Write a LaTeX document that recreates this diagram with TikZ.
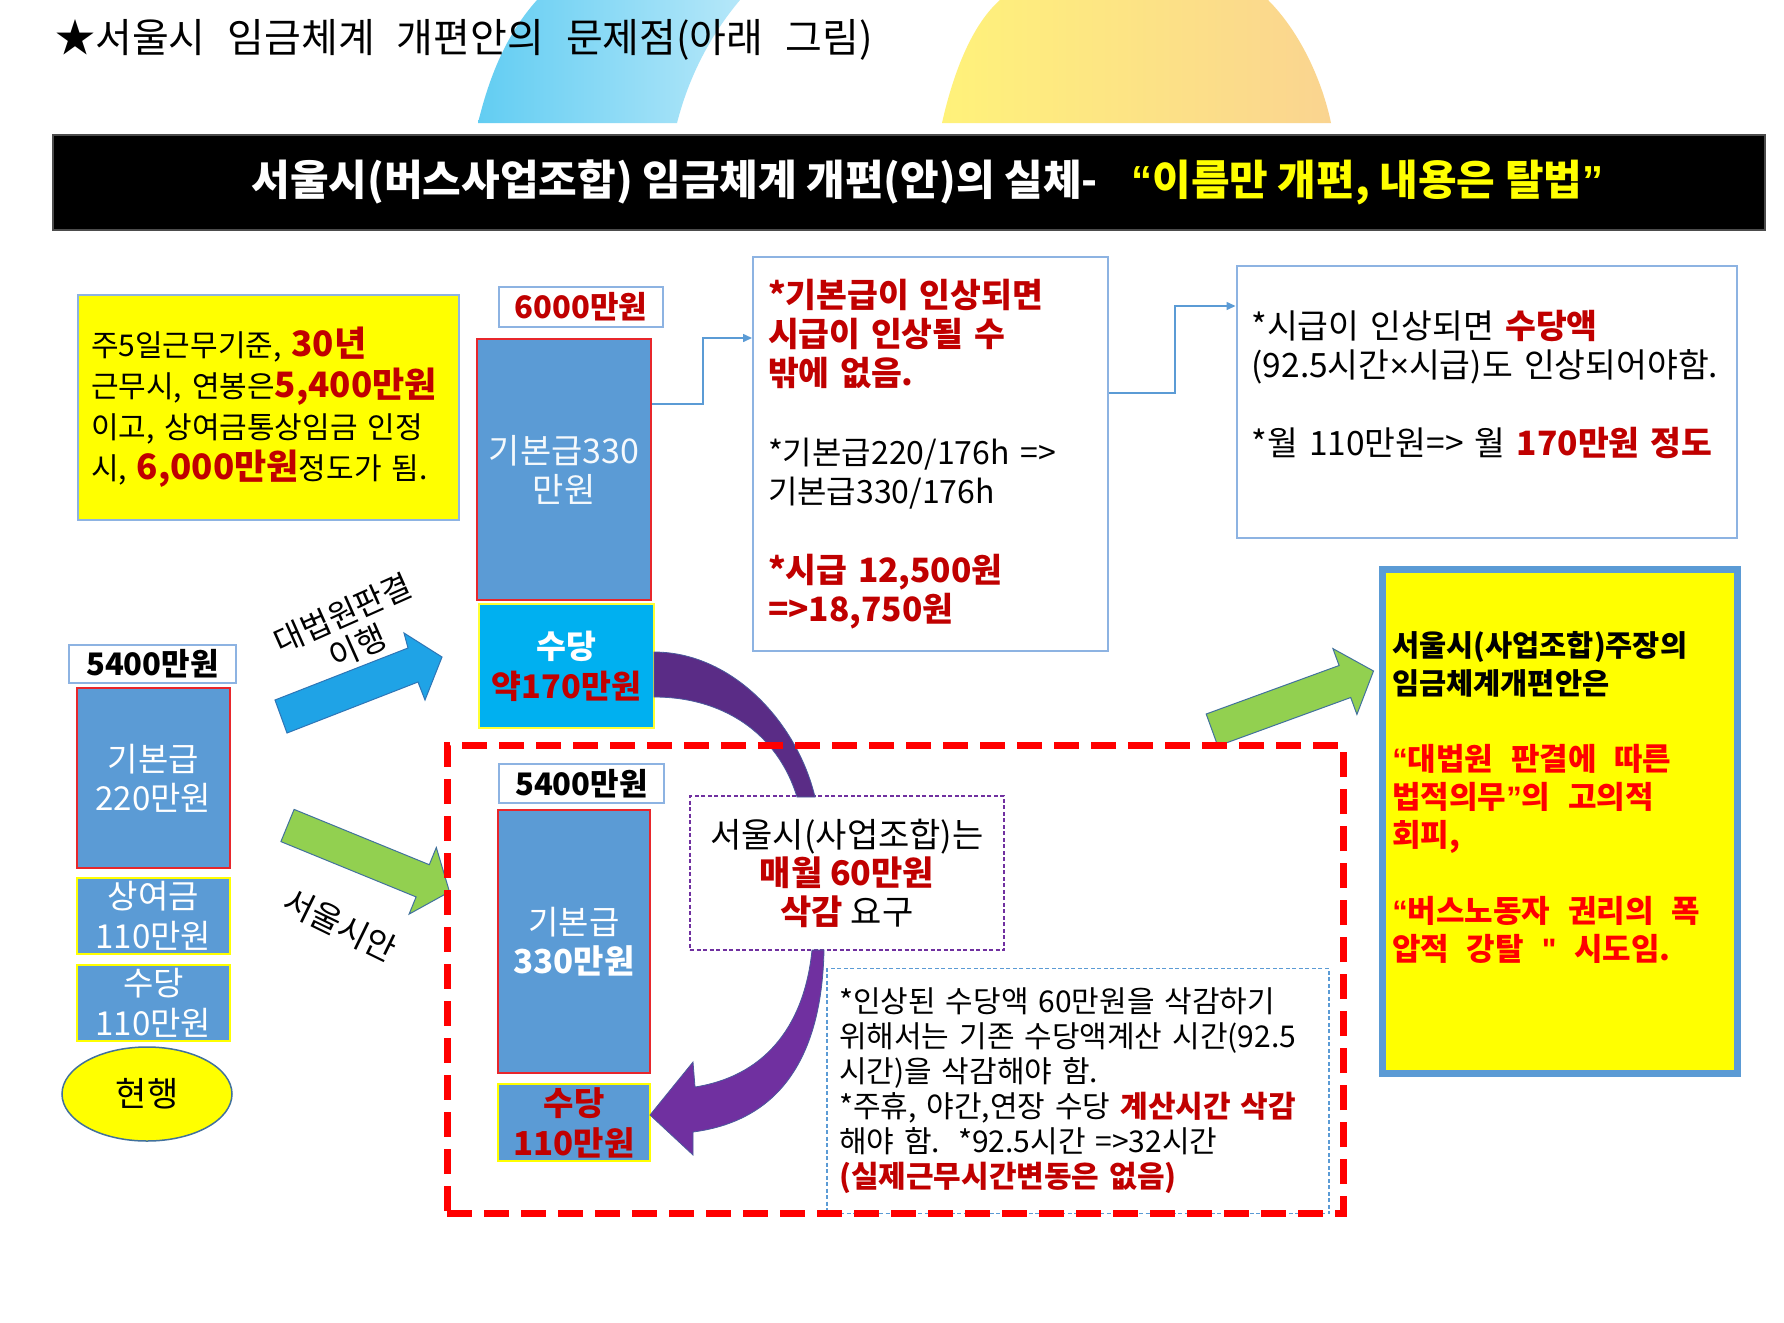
\documentclass[tikz,border=0pt]{standalone}
\usepackage{fontspec}
\setmainfont{Noto Sans CJK KR}
\newfontfamily\latinf{Liberation Sans}
\usetikzlibrary{arrows.meta,shapes.geometric,calc}
\definecolor{barblue}{HTML}{5B9BD5}
\definecolor{dred}{HTML}{C00000}
\definecolor{brred}{HTML}{FF0000}
\definecolor{ltblue}{HTML}{8DB3E2}
\definecolor{cyanb}{HTML}{00B0F0}
\definecolor{purpT}{HTML}{5A2C86}
\definecolor{purpB}{HTML}{7030A0}
\definecolor{purpE}{HTML}{4A5A9C}
\definecolor{grn}{HTML}{92D050}
\definecolor{skyb}{HTML}{1FA3E6}
\definecolor{skyd}{HTML}{2E75B6}
\definecolor{ylw}{HTML}{FFFF00}
\definecolor{barred}{HTML}{E8262B}
\definecolor{ellb}{HTML}{41719C}
\definecolor{blobL}{HTML}{62CDF2}
\definecolor{blobR}{HTML}{B5E7F9}
\definecolor{ylwL}{HTML}{FFF27A}
\definecolor{ylwR}{HTML}{FAD490}
\newcommand{\redb}[1]{{\bfseries\color{dred}#1}}
\newcommand{\redbx}[1]{{\bfseries\color{dred}\fontsize{33.5}{39.25}\selectfont #1}}
\newcommand{\redR}[1]{{\color{brred}\fontsize{31}{38}\selectfont #1}}
\newcommand{\redbig}[1]{{\bfseries\color{dred}\fontsize{35}{41}\selectfont #1}}
\newcommand{\fsz}[2]{\fontsize{#1}{#2}\selectfont}
\newcommand{\lquo}{{\latinf “}}
\newcommand{\rquo}{{\latinf ”}}
\newcommand{\widesp}{\spaceskip=0.6em plus 0.1em\relax}
\tikzset{
  lbl/.style={draw=ltblue, line width=2pt, fill=white, inner sep=0pt, font=\bfseries\fsz{31}{36}},
  bar/.style={fill=barblue, draw=barred, line width=2pt, inner sep=0pt, align=center, text=white},
  baryel/.style={bar, draw=ylw},
  conn/.style={draw=barblue, line width=1.5pt, -{Triangle[length=9pt,width=8pt]}},
  txtbox/.style={draw=ltblue, line width=2pt, fill=white, align=left, inner ysep=0pt},
  dotbox/.style={line width=1.3pt, dash pattern=on 4pt off 2.5pt, fill=white, inner sep=0pt},
  blockarrow/.style={line width=1pt},
}
\begin{document}
\begin{tikzpicture}[x=1pt,y=-1pt]
\useasboundingbox (0,0) rectangle (1784,1322);
\fill[white] (0,0) rectangle (1784,1322);
% background decorations
\shade[left color=blobL,right color=blobR] (478,123) .. controls (492,65) and (512,28) .. (537,0) -- (740,0) .. controls (708,38) and (688,80) .. (677,123) -- cycle;
\shade[left color=ylwL,right color=ylwR] (942,123) .. controls (955,65) and (975,22) .. (1000,0) -- (1268,0) .. controls (1300,32) and (1322,80) .. (1331,123) -- cycle;
% title
\node[anchor=west, font=\fsz{40}{44}, inner sep=0pt] (title) at (55,40) {★서울시\hspace{0.55em}임금체계\hspace{0.55em}개편안의\hspace{0.55em}문제점(아래\hspace{0.55em}그림)};
% banner
\node[fill=black, draw=black!70, line width=1.5pt, minimum width=1712pt, minimum height=95pt, inner sep=0pt] (banner) at (909,182.5) {};
\node[font=\bfseries\fsz{42}{46}, text=white, inner sep=0pt] (bannertext) at (927.5,182) {서울시(버스사업조합) 임금체계 개편(안)의 실체-\hspace{0.8em}{\color{ylw}\lquo 이름만 개편, 내용은 탈법\rquo}};
% top-left yellow box
\node[fill=ylw, draw=ltblue, line width=2pt, text width=355pt, inner xsep=13pt, inner ysep=0pt, minimum height=225pt, align=left, font=\fsz{30}{41}] (box1) at (268.5,407.5) {주5일근무기준, \redbig{30년}\\근무시, 연봉은\redbig{5,400만원}\\이고, 상여금통상임금 인정\\시, \redbig{6,000만원}정도가 됨.};
% 6000 column
\node[lbl, minimum width=164pt, minimum height=40pt, text=dred] (l6000) at (581,307) {6000만원};
\node[bar, minimum width=174pt, minimum height=261pt, font=\fsz{34}{39}, text=white!94!barblue] (bar1) at (564,469.5) {기본급330\\만원};
\node[bar, fill=cyanb, draw=ylw!80!white, line width=1.5pt, minimum width=175pt, minimum height=124pt, font=\bfseries\fsz{32.5}{40}] (suda1) at (566.5,666) {수당\\{\color{dred}약170만원}};
% explanation boxes
\node[txtbox, text width=325pt, inner xsep=15pt, minimum height=394pt, font=\fsz{32}{39.25}] (box2) at (930.5,454) {\redbx{*기본급이 인상되면}\\\redbx{시급이 인상될 수}\\\redbx{밖에 없음.}\\\mbox{}\\{}*기본급220/176h =>\\기본급330/176h\\\mbox{}\\\redbx{*시급 12,500원}\\\redbx{=>18,750원}};
\node[txtbox, text width=470pt, inner xsep=15pt, minimum height=272pt, font=\fsz{33.5}{39}] (box3) at (1486.5,402) {*시급이 인상되면 \redb{수당액}\\(92.5시간{\latinf ×}시급)도 인상되어야함.\\\mbox{}\\{}*월 110만원=> 월 \redb{170만원 정도}\\\mbox{}};
\draw[conn] ([yshift=65.5pt]bar1.east) -- ++(51,0) |- ([yshift=116pt]box2.west);
\draw[conn] ([yshift=61pt]box2.east) -- ++(66,0) |- ([yshift=96pt]box3.west);
% right yellow box
\node[fill=ylw, draw=barblue, line width=7pt, text width=335pt, inner xsep=10pt, inner ysep=0pt, minimum width=355.5pt, minimum height=504pt, align=left, font=\bfseries\fsz{29.5}{38}] (boxR) at (1559.75,821) {\widesp 서울시(사업조합)주장의\\임금체계개편안은\\\mbox{}\\\redR{\lquo 대법원 판결에 따른}\\\redR{법적의무\rquo 의 고의적}\\\redR{회피,}\\\mbox{}\\\redR{\lquo 버스노동자 권리의 폭}\\\redR{압적 강탈 {\latinf "} 시도임.}\\[12pt]\mbox{}};
% left column (current)
\node[lbl, minimum width=167pt, minimum height=38pt] (l5400a) at (152.5,664) {5400만원};
\node[bar, minimum width=153pt, minimum height=180pt, font=\fsz{33}{39}] (barL1) at (153.5,778) {기본급\\220만원};
\node[baryel, minimum width=153pt, minimum height=76pt, font=\fsz{33}{40}] (barL2) at (153.5,916) {상여금\\110만원};
\node[baryel, minimum width=153pt, minimum height=76pt, font=\fsz{33}{40}] (barL3) at (153.5,1003) {수당\\110만원};
\node[ellipse, fill=ylw, draw=ellb, line width=1.5pt, minimum width=170pt, minimum height=94pt, inner sep=0pt, font=\fsz{34}{38}] (ell) at (147,1094) {현행};
% block arrows
\filldraw[blockarrow, fill=skyb, draw=skyd] (275,700) -- (408,648) -- (404,633) -- (442,657) -- (425,700) -- (418,682) -- (287,733) -- cycle;
\filldraw[blockarrow, fill=grn, draw=ellb] (294.1,809.4) -- (429.3,864.7) -- (436.3,847.5) -- (449.5,891.8) -- (409.1,914.1) -- (416.1,896.9) -- (280.9,841.6) -- cycle;
\filldraw[blockarrow, fill=grn, draw=ellb] (1206.2,714) -- (1339.1,665.5) -- (1332.9,648.6) -- (1373.5,671) -- (1356.9,714.4) -- (1350.7,697.5) -- (1217.8,746) -- cycle;
\node[rotate=24, align=center, font=\fsz{32}{36}, inner sep=0pt] (lblA) at (350,630) {대법원판결\\이행};
\node[rotate=-26, font=\fsz{33}{36}, inner sep=0pt] (lblB) at (340,925) {서울시안};
% Seoul proposal column
\node[lbl, minimum width=165pt, minimum height=39pt] (l5400b) at (581.5,783.5) {5400만원};
\node[bar, minimum width=152pt, minimum height=263pt, font=\fsz{33}{39}] (barR1) at (574,941.5) {기본급\\{\bfseries 330만원}};
\node[baryel, minimum width=152pt, minimum height=77pt, font=\bfseries\fsz{33}{40}, text=dred] (barR2) at (574,1122.5) {수당\\110만원};
\node[dotbox, draw=purpB, minimum width=314pt, minimum height=154pt, align=center, font=\fsz{34}{38.5}] (purp) at (847,873) {서울시(사업조합)는\\\redb{매월 60만원}\\\redb{삭감} 요구};
\node[dotbox, draw=barblue, text width=478pt, inner xsep=12pt, minimum height=245pt, align=left, font=\fsz{30}{35}] (bdash) at (1078,1091) {*인상된 수당액 60만원을 삭감하기\\위해서는 기존 수당액계산 시간(92.5\\시간)을 삭감해야 함.\\{}*주휴, 야간,연장 수당 \redb{계산시간 삭감}\\해야 함.\hspace{0.6em}*92.5시간 =>32시간\\\redb{(실제근무시간변동은 없음)}};
% purple curved arrows
\filldraw[fill=purpT, draw=purpE, line width=0.8pt] (654,652) .. controls (732,652) and (797,722) .. (815,797) -- (797,797) .. controls (777,732) and (722,697) .. (654,697) -- cycle;
\filldraw[fill=purpB, draw=purpE, line width=0.8pt] (812,950) .. controls (805,1020) and (770,1075) .. (695,1087) -- (693,1062) -- (650,1115) -- (693,1155) -- (693,1132) .. controls (785,1120) and (822,1050) .. (824,950) -- cycle;
% red dashed frame
\node[draw=brred, line width=7pt, dash pattern=on 25pt off 12pt, minimum width=896pt, minimum height=468pt, inner sep=0pt] (redbox) at (895,979) {};
\end{tikzpicture}
\end{document}
